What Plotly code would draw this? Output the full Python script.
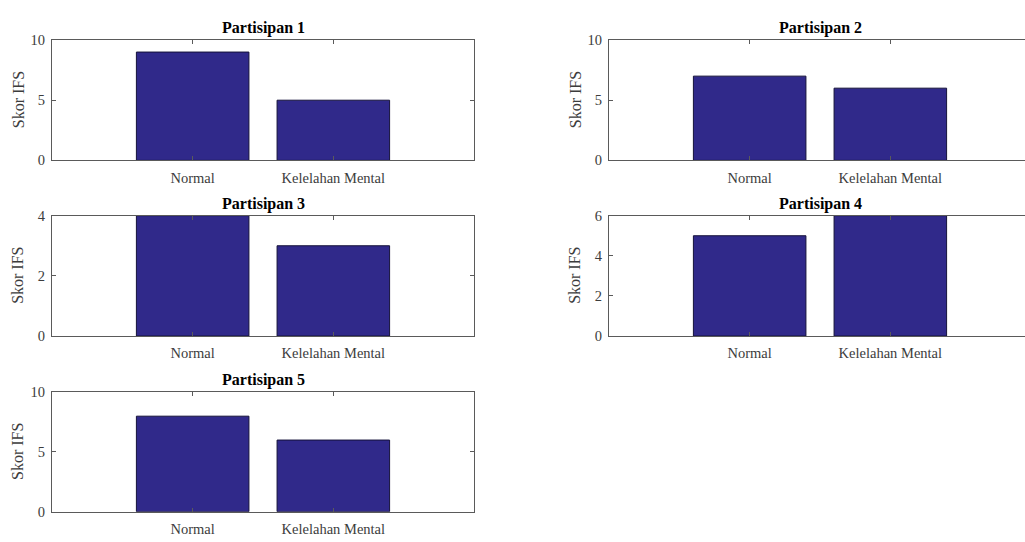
import plotly.graph_objects as go

# Skor IFS per partisipan untuk kondisi Normal dan Kelelahan Mental
kondisi = ["Normal", "Kelelahan Mental"]
partisipan = ["Partisipan 1", "Partisipan 2", "Partisipan 3", "Partisipan 4", "Partisipan 5"]
skor_p1 = [9, 5]
skor_p2 = [7, 6]
skor_p3 = [4, 3]
skor_p4 = [5, 6]
skor_p5 = [8, 6]
skor = [skor_p1, skor_p2, skor_p3, skor_p4, skor_p5]
batas_y = [10, 10, 4, 6, 10]
tick_y = [[0, 5, 10], [0, 5, 10], [0, 2, 4], [0, 2, 4, 6], [0, 5, 10]]

W, H = 1025, 542
FONT = "Liberation Serif"
BAR_COLOR = "#30298A"
AXIS_COLOR = "#5a5a5a"
TICK_COLOR = "#3c3c3c"

# pixel geometry of each panel: (left, top, bottom); panels are 422 px wide,
# right-column panels run off the right edge of the page
PANEL_W = 422
panels = [
    (52, 33, 157),
    (609, 33, 157),
    (52, 214, 338),
    (609, 214, 338),
    (52, 396, 519),
]

fig = go.Figure()
annotations = []

for i, (left, top, bottom) in enumerate(panels):
    n = i + 1
    xa = "x" if n == 1 else f"x{n}"
    ya = "y" if n == 1 else f"y{n}"
    right = min(left + PANEL_W, W)
    frac = (right - left) / PANEL_W
    cut = right < left + PANEL_W
    fig.add_trace(go.Bar(
        x=kondisi, y=skor[i], xaxis=xa, yaxis=ya,
        width=0.8,
        marker=dict(color=BAR_COLOR, line=dict(color="#15123a", width=1)),
        showlegend=False, hoverinfo="x+y",
    ))
    xkey = "xaxis" if n == 1 else f"xaxis{n}"
    ykey = "yaxis" if n == 1 else f"yaxis{n}"
    fig.layout[xkey] = dict(
        domain=[left / W, right / W], anchor=ya, type="category",
        categoryorder="array", categoryarray=kondisi,
        range=[-1, -1 + 3 * frac],
        showline=True, linecolor=AXIS_COLOR, linewidth=1,
        mirror="ticks", ticks="inside", ticklen=4, tickcolor=AXIS_COLOR,
        showgrid=False, zeroline=False, fixedrange=True,
        tickfont=dict(family=FONT, size=14.5, color=TICK_COLOR),
        ticklabelstandoff=4,
    )
    fig.layout[ykey] = dict(
        domain=[1 - bottom / H, 1 - top / H], anchor=xa,
        range=[0, batas_y[i]], tickvals=tick_y[i],
        showline=True, linecolor=AXIS_COLOR, linewidth=1,
        mirror=False if cut else "ticks", ticks="inside", ticklen=4,
        tickcolor=AXIS_COLOR,
        showgrid=False, zeroline=False, fixedrange=True,
        tickfont=dict(family=FONT, size=14.5, color=TICK_COLOR),
        ticklabelstandoff=3,
    )
    # panel title, centred over the full panel width
    annotations.append(dict(
        text=f"<b>{partisipan[i]}</b>", xref="paper", yref="paper",
        x=(left + PANEL_W / 2) / W, y=1 - (top - 1) / H,
        xanchor="center", yanchor="bottom", showarrow=False,
        font=dict(family=FONT, size=16, color="#000000"),
    ))
    # y-axis label
    annotations.append(dict(
        text="Skor IFS", xref="paper", yref="paper",
        x=(left - 34) / W, y=1 - (top + bottom) / 2 / H,
        xanchor="center", yanchor="middle", textangle=-90, showarrow=False,
        font=dict(family=FONT, size=16, color=TICK_COLOR),
    ))

fig.update_layout(
    width=W, height=H,
    margin=dict(l=0, r=0, t=0, b=0),
    paper_bgcolor="white", plot_bgcolor="white",
    bargap=0.2,
    annotations=annotations,
)

fig.write_html("out.html", config={"displayModeBar": False})
